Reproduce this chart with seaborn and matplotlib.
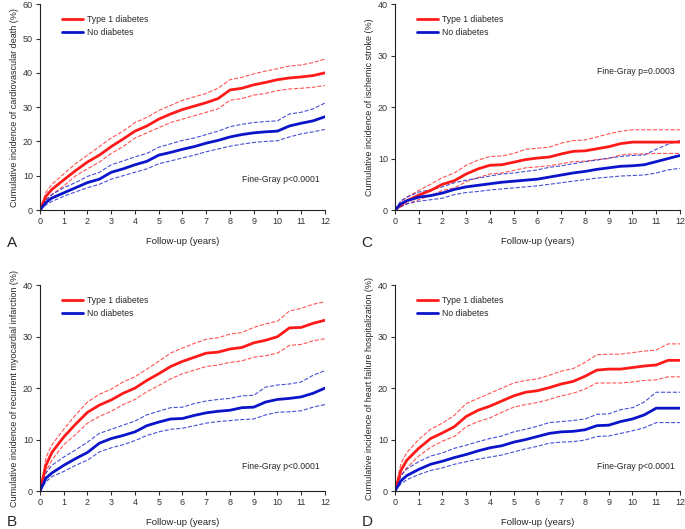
import numpy as np
import matplotlib
matplotlib.use('Agg')
import matplotlib.pyplot as plt
import seaborn as sns

# time grid (years)
t = [0, 0.25, 0.5, 1, 1.5, 2, 2.5, 3, 3.5, 4, 4.5, 5, 5.5, 6, 6.5, 7, 7.5, 8, 8.5, 9, 9.5, 10, 10.5, 11, 11.5, 12]

# A: cardiovascular death
a_t1 = [0, 4, 6, 8.8, 11.5, 14, 16, 18.5, 20.7, 23, 24.5, 26.5, 28, 29.3, 30.3, 31.3, 32.5, 35, 35.5, 36.5, 37.2, 38, 38.5, 38.8, 39.2, 40]
a_t1_hi = [0, 5.2, 7.5, 10.5, 13.5, 16, 18.5, 21, 23, 25.5, 27, 29, 30.5, 32, 33, 34, 35.5, 38, 38.7, 39.7, 40.5, 41.2, 42, 42.3, 43, 44]
a_t1_lo = [0, 2.8, 4.5, 7, 10, 12, 14, 16.5, 18.5, 21, 22.5, 24, 25.5, 26.5, 27.5, 28.5, 29.5, 32, 32.5, 33.5, 34, 34.8, 35.3, 35.5, 35.8, 36.3]
a_no = [0, 2.2, 3.5, 5, 6.5, 8, 9, 11, 12, 13.2, 14.2, 16, 16.8, 17.7, 18.5, 19.5, 20.3, 21.3, 22, 22.5, 22.8, 23, 24.5, 25.3, 26, 27.2]
a_no_hi = [0, 3, 4.5, 6.5, 8, 9.8, 11, 13.2, 14.3, 15.5, 16.5, 18.3, 19.3, 20.3, 21, 22, 23, 24.3, 25, 25.5, 25.8, 26, 28, 28.5, 29.5, 31.2]
a_no_lo = [0, 1.5, 2.5, 4, 5.3, 6.5, 7.5, 9, 10, 11, 12, 13.5, 14.3, 15.2, 16, 17, 17.8, 18.6, 19.2, 19.7, 20, 20.2, 21.3, 22.2, 22.8, 23.5]

# C: ischemic stroke
c_t1 = [0, 1, 1.8, 2.9, 3.8, 5, 5.7, 7, 8, 8.7, 8.8, 9.3, 9.8, 10.1, 10.3, 10.9, 11.4, 11.5, 11.9, 12.3, 12.9, 13.2, 13.2, 13.2, 13.2, 13.2]
c_t1_hi = [0, 1.6, 2.5, 3.8, 5, 6.3, 7.2, 8.7, 9.7, 10.4, 10.5, 11, 11.8, 12, 12.2, 13, 13.5, 13.6, 14.2, 14.8, 15.3, 15.6, 15.6, 15.6, 15.6, 15.6]
c_t1_lo = [0, 0.6, 1.2, 2, 2.8, 3.8, 4.3, 5.5, 6.3, 7, 7.2, 7.7, 8.2, 8.4, 8.6, 9, 9.4, 9.5, 9.8, 10, 10.7, 10.9, 10.9, 11, 11, 11]
c_no = [0, 1.2, 1.8, 2.5, 2.8, 3.3, 4, 4.5, 4.8, 5.1, 5.4, 5.6, 5.8, 6, 6.4, 6.8, 7.2, 7.5, 7.9, 8.2, 8.5, 8.6, 8.8, 9.4, 10, 10.6]
c_no_hi = [0, 1.8, 2.5, 3.5, 3.9, 4.5, 5.3, 5.8, 6.2, 6.6, 7, 7.2, 7.5, 7.8, 8.3, 8.6, 9, 9.4, 9.7, 10.1, 10.4, 10.6, 10.7, 11.8, 12.8, 13.5]
c_no_lo = [0, 0.7, 1.2, 1.7, 2, 2.3, 3, 3.4, 3.6, 3.9, 4.1, 4.3, 4.5, 4.7, 5, 5.3, 5.6, 5.9, 6.2, 6.4, 6.6, 6.7, 6.8, 7.2, 7.8, 8.1]

# B: recurrent myocardial infarction
b_t1 = [0, 5, 7.5, 10.5, 13, 15.3, 16.7, 17.7, 19, 20, 21.5, 22.8, 24.2, 25.2, 26, 26.8, 27, 27.6, 27.9, 28.8, 29.3, 30, 31.7, 31.8, 32.6, 33.2]
b_t1_hi = [0, 6.5, 9, 12, 14.8, 17.3, 18.8, 19.8, 21.2, 22.2, 23.7, 25.2, 26.8, 27.8, 28.7, 29.5, 29.8, 30.5, 30.8, 31.8, 32.5, 33, 35, 35.5, 36.3, 36.8]
b_t1_lo = [0, 3.8, 6, 9, 11, 13.2, 14.5, 15.5, 16.8, 17.8, 19.3, 20.5, 21.8, 22.8, 23.5, 24.2, 24.5, 25, 25.3, 26, 26.3, 26.8, 28.3, 28.5, 29.2, 29.6]
b_no = [0, 2.5, 3.5, 5, 6.3, 7.5, 9.3, 10.2, 10.8, 11.5, 12.7, 13.4, 14, 14.1, 14.7, 15.2, 15.5, 15.7, 16.2, 16.3, 17.3, 17.8, 18, 18.3, 19, 20]
b_no_hi = [0, 3.5, 5, 6.6, 8, 9.5, 11.2, 12, 12.8, 13.6, 14.8, 15.5, 16.2, 16.3, 17, 17.5, 17.8, 18, 18.5, 18.6, 20.2, 20.6, 20.8, 21.2, 22.5, 23.4]
b_no_lo = [0, 1.8, 2.8, 3.8, 5, 6, 7.6, 8.4, 9, 9.8, 10.8, 11.5, 12, 12.2, 12.7, 13.2, 13.5, 13.7, 13.9, 14, 14.8, 15.3, 15.4, 15.6, 16.3, 16.8]

# D: heart failure hospitalization
d_t1 = [0, 4, 6, 8.3, 10.2, 11.3, 12.5, 14.5, 15.7, 16.5, 17.5, 18.5, 19.2, 19.5, 20.1, 20.8, 21.3, 22.3, 23.5, 23.7, 23.7, 24, 24.3, 24.5, 25.4, 25.4]
d_t1_hi = [0, 5.3, 7.5, 10, 12, 13.2, 14.7, 17, 18, 19, 20, 21, 21.5, 21.8, 22.5, 23.3, 23.8, 25, 26.5, 26.6, 26.6, 26.9, 27.2, 27.4, 28.6, 28.6]
d_t1_lo = [0, 3, 4.5, 6.8, 8.5, 9.7, 10.6, 12.5, 13.5, 14.2, 15.3, 16.3, 16.8, 17.2, 17.8, 18.5, 19, 19.8, 21, 21, 21, 21.2, 21.5, 21.6, 22.2, 22.2]
d_no = [0, 2, 3, 4.2, 5.2, 5.8, 6.5, 7.1, 7.8, 8.4, 8.8, 9.5, 10, 10.6, 11.2, 11.5, 11.6, 11.9, 12.7, 12.8, 13.5, 14, 14.8, 16.1, 16.1, 16.1]
d_no_hi = [0, 3, 4.3, 5.7, 6.8, 7.4, 8.3, 8.9, 9.6, 10.2, 10.7, 11.5, 12, 12.6, 13.3, 13.5, 13.7, 14, 14.9, 15, 15.8, 16.2, 17.3, 19.2, 19.2, 19.2]
d_no_lo = [0, 1.4, 2.2, 3.2, 4, 4.5, 5.2, 5.7, 6.2, 6.6, 7, 7.6, 8.2, 8.7, 9.3, 9.5, 9.6, 9.9, 10.6, 10.7, 11.2, 11.7, 12.3, 13.3, 13.3, 13.3]

RED = '#ff1a1a'
BLUE = '#0a14c8'

sns.set_style('ticks')
plt.rcParams['font.family'] = ['Liberation Sans', 'DejaVu Sans']

fig = plt.figure(figsize=(6.85, 5.29), dpi=100)

panels = [
    # rect, letter, letter pos, ylabel, ymax, curves, p text, p pos
    ([0.0584, 0.603, 0.416, 0.389], 'A', (0.010, 0.533),
     'Cumulative incidence of cardiovascular death (%)', 60,
     (a_t1, a_t1_hi, a_t1_lo, a_no, a_no_hi, a_no_lo), 'Fine-Gray p<0.0001', (0.709, 0.146)),
    ([0.5766, 0.603, 0.416, 0.389], 'C', (0.528, 0.533),
     'Cumulative incidence of ischemic stroke (%)', 40,
     (c_t1, c_t1_hi, c_t1_lo, c_no, c_no_hi, c_no_lo), 'Fine-Gray p=0.0003', (0.709, 0.675)),
    ([0.0584, 0.0718, 0.416, 0.389], 'B', (0.010, 0.006),
     'Cumulative incidence of recurrent myocardial infarction (%)', 40,
     (b_t1, b_t1_hi, b_t1_lo, b_no, b_no_hi, b_no_lo), 'Fine-Gray p<0.0001', (0.709, 0.121)),
    ([0.5766, 0.0718, 0.416, 0.389], 'D', (0.528, 0.006),
     'Cumulative incidence of heart failure hospitalization (%)', 40,
     (d_t1, d_t1_hi, d_t1_lo, d_no, d_no_hi, d_no_lo), 'Fine-Gray p<0.0001', (0.709, 0.121)),
]

for rect, letter, lpos, ylab, ymax, curves, ptxt, ppos in panels:
    ax = fig.add_axes(rect)
    t1, t1_hi, t1_lo, no, no_hi, no_lo = curves
    # confidence bands as thin dashed lines
    for ci, col in [(t1_hi, RED), (t1_lo, RED), (no_hi, BLUE), (no_lo, BLUE)]:
        sns.lineplot(x=t, y=ci, ax=ax, color=col, linewidth=0.8, linestyle='--',
                     alpha=0.75)
    sns.lineplot(x=t, y=t1, ax=ax, color=RED, linewidth=2.0, label='Type 1 diabetes')
    sns.lineplot(x=t, y=no, ax=ax, color=BLUE, linewidth=2.0, label='No diabetes')

    ax.set_xlim(0, 12)
    ax.set_ylim(0, ymax)
    ax.set_xticks(range(0, 13))
    ax.set_yticks(range(0, ymax + 1, 10))
    ax.tick_params(labelsize=6.5, length=3, width=0.8, pad=2, colors='#333333')
    ax.set_xlabel('Follow-up (years)', fontsize=6.8, labelpad=8)
    ax.set_ylabel(ylab, fontsize=6.5, labelpad=3)
    for s in ['left', 'bottom']:
        ax.spines[s].set_linewidth(0.8)
        ax.spines[s].set_color('#222222')
    sns.despine(ax=ax)
    ax.legend(loc='upper left', bbox_to_anchor=(0.077, 0.95), frameon=False,
              fontsize=6.2, handlelength=2.4, handletextpad=0.5,
              borderaxespad=0, borderpad=0, labelspacing=0.55)
    ax.text(ppos[0], ppos[1], ptxt, transform=ax.transAxes, fontsize=6.2, va='center')
    fig.text(lpos[0], lpos[1], letter, fontsize=11, va='baseline')

fig.savefig('out.png', dpi=100)
